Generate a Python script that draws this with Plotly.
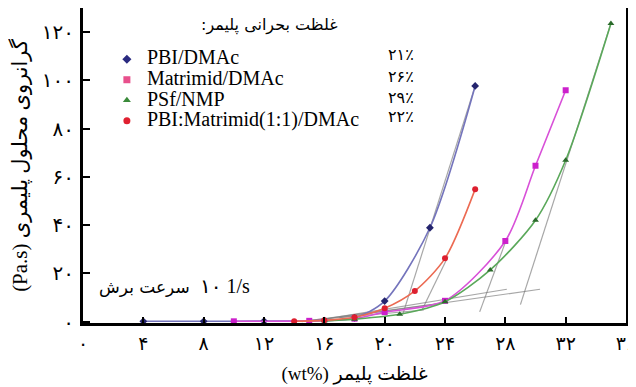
import plotly.graph_objects as go

# ---------------- data ----------------
conc_pbi = [4, 8, 12, 16, 18, 20, 23, 26]
visc_pbi = [0.1, 0.1, 0.2, 0.4, 1.5, 8.5, 38.9, 97.7]

conc_mat = [10, 15, 18, 20, 24, 28, 30, 32]
visc_mat = [0.1, 0.3, 1.2, 3.9, 8.6, 33.4, 64.6, 95.9]

conc_psf = [16, 18, 21, 24, 27, 30, 32, 35]
visc_psf = [0.3, 1.0, 3.0, 8.2, 21.4, 42.0, 66.9, 123.6]

conc_blend = [14, 16, 18, 20, 22, 24, 26]
visc_blend = [0.1, 0.5, 1.8, 5.5, 12.7, 26.2, 54.9]

series_names = ["PBI/DMAc", "Matrimid/DMAc", "PSf/NMP", "PBI:Matrimid(1:1)/DMAc"]
critical_labels = ["۲۱٪", "۲۶٪", "۲۹٪", "۲۲٪"]

# tangent (critical-concentration) construction lines, pairs of end points
tan_pbi_x = [14, 22.6, None, 21.2, 26]
tan_pbi_y = [0, 4.8, None, 3.0, 97.7]
tan_blend_x = [14.5, 23.6, None, 22.5, 24.2]
tan_blend_y = [0, 7.4, None, 5.1, 27.0]
tan_mat_x = [15, 28.1, None, 26.3, 28.1]
tan_mat_y = [0, 13.4, None, 4.0, 34.5]
tan_psf_x = [17, 30.3, None, 29.0, 35]
tan_psf_y = [1.6, 13.4, None, 7.0, 123.6]

x_ticks = [0, 4, 8, 12, 16, 20, 24, 28, 32, 36]
x_ticktext = ["۰", "۴", "۸", "۱۲", "۱۶", "۲۰", "۲۴", "۲۸", "۳۲", "۳۶"]
y_ticks = [0, 20, 40, 60, 80, 100, 120]
y_ticktext = ["۰", "۲۰", "۴۰", "۶۰", "۸۰", "۱۰۰", "۱۲۰"]

FONT = "Liberation Serif, Times New Roman, DejaVu Sans, serif"
FA = "DejaVu Sans, sans-serif"

fig = go.Figure()

# gray tangent lines (under the curves)
for tx, ty in [(tan_pbi_x, tan_pbi_y), (tan_blend_x, tan_blend_y),
               (tan_mat_x, tan_mat_y), (tan_psf_x, tan_psf_y)]:
    fig.add_trace(go.Scatter(x=tx, y=ty, mode="lines", showlegend=False,
                             line=dict(color="rgba(120,120,120,0.65)", width=1.2),
                             hoverinfo="skip"))

styles = [
    (conc_pbi, visc_pbi, "#7474bc", "#24246e", "diamond", "#2a2a80"),
    (conc_mat, visc_mat, "#d850d8", "#cc20cc", "square", "#e8508c"),
    (conc_psf, visc_psf, "#5aa85a", "#2a6a2a", "triangle-up", "#3a8a3a"),
    (conc_blend, visc_blend, "#ec6a52", "#dd1f2f", "circle", "#e02030"),
]

for (cx, cy, lc, mc, sym, legc), name in zip(styles, series_names):
    fig.add_trace(go.Scatter(x=cx, y=cy, mode="lines+markers", showlegend=False,
                             name=name,
                             line=dict(color=lc, width=1.6, shape="spline", smoothing=0.8),
                             marker=dict(color=mc, size=6, symbol=sym)))

# legend-only marker entries
for (cx, cy, lc, mc, sym, legc), name in zip(styles, series_names):
    fig.add_trace(go.Scatter(x=[None], y=[None], mode="markers",
                             name='<span style="font-size:20px">' + name + '</span>',
                             marker=dict(color=legc, size=7, symbol=sym)))

annotations = [
    dict(text="غلظت بحرانی پلیمر:\u200f", x=0.344, y=0.946, xref="paper", yref="paper",
         xanchor="center", yanchor="middle",
         showarrow=False, font=dict(size=16, family=FA, color="black")),
    dict(text="سرعت برش", x=0.2007, y=0.114, xref="paper", yref="paper",
         xanchor="right", yanchor="middle",
         showarrow=False, font=dict(size=17, family=FA, color="black")),
    dict(text="۱۰ 1/s", x=0.212, y=0.117, xref="paper", yref="paper",
         xanchor="left", yanchor="middle",
         showarrow=False, font=dict(size=20, family=FONT, color="black")),
]
row_y = [0.851, 0.784, 0.717, 0.654]
for lab, yy in zip(critical_labels, row_y):
    annotations.append(dict(text=lab, x=0.613, y=yy, xref="paper", yref="paper",
                            xanchor="right", yanchor="middle", showarrow=False,
                            font=dict(size=16, family=FA, color="black")))

fig.update_layout(
    width=628, height=379,
    margin=dict(l=75, r=10, t=0, b=64),
    paper_bgcolor="white", plot_bgcolor="white",
    font=dict(family=FONT, color="black"),
    showlegend=True,
    legend=dict(x=0.044, y=0.886, xanchor="left", yanchor="top",
                bgcolor="rgba(0,0,0,0)", font=dict(size=13.5, family=FONT, color="black"),
                itemwidth=30),
    annotations=annotations,
    xaxis=dict(range=[0, 36], tickvals=x_ticks, ticktext=x_ticktext,
               ticks="inside", ticklen=6, tickwidth=2, tickcolor="black",
               showline=True, linewidth=3, linecolor="black", mirror=True,
               showgrid=False, zeroline=False, automargin=False,
               ticklabelstandoff=1, ticklabeloverflow="allow",
               tickfont=dict(size=19, family=FA, color="black"),
               title=dict(text="(wt%) غلظت پلیمر", standoff=14,
                          font=dict(size=19, family=FONT, color="black"))),
    yaxis=dict(range=[-0.6, 130], tickvals=y_ticks, ticktext=y_ticktext,
               ticks="inside", ticklen=7, tickwidth=2, tickcolor="black",
               showline=True, linewidth=3, linecolor="black", mirror=True,
               showgrid=False, zeroline=False, automargin=False,
               ticklabelstandoff=2, ticklabeloverflow="allow",
               tickfont=dict(size=20, family=FA, color="black"),
               title=dict(text="(Pa.s) گرانروی محلول پلیمری", standoff=22,
                          font=dict(size=21, family=FONT, color="black"))),
)

fig.write_html("out.html")
